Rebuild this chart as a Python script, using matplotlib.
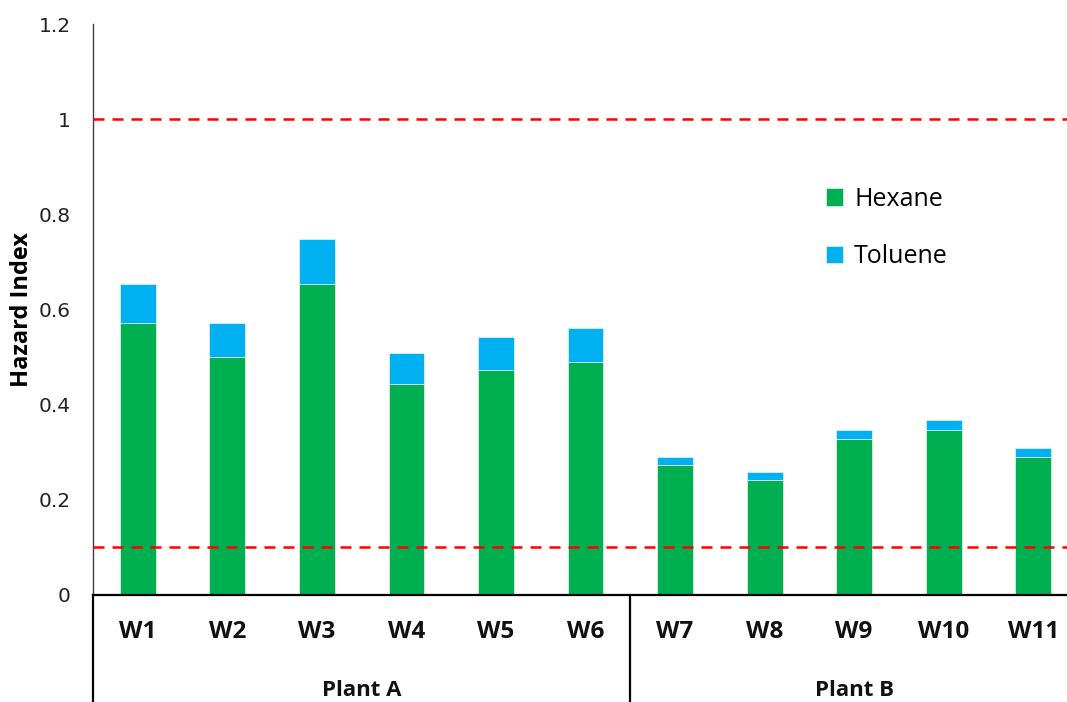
import matplotlib.pyplot as plt
import matplotlib.transforms as mtransforms

wells = ['W1', 'W2', 'W3', 'W4', 'W5', 'W6', 'W7', 'W8', 'W9', 'W10', 'W11']
hexane = [0.572, 0.500, 0.654, 0.443, 0.472, 0.490, 0.273, 0.242, 0.327, 0.346, 0.290]
toluene = [0.082, 0.072, 0.094, 0.066, 0.070, 0.071, 0.017, 0.016, 0.020, 0.022, 0.019]
plants = ['Plant A', 'Plant B']
plant_sizes = [6, 5]
limits = [1.0, 0.1]

green = '#00B050'
blue = '#00B0F0'

fig = plt.figure(figsize=(10.67, 7.02), dpi=100)
ax = fig.add_axes([93 / 1067, 107 / 702, 985 / 1067, 571 / 702])

x = list(range(len(wells)))
ax.bar(x, hexane, width=0.4, color=green, edgecolor='#d8f0e0', linewidth=0.6, label='Hexane', zorder=2)
ax.bar(x, toluene, width=0.4, bottom=hexane, color=blue, edgecolor='#d8f0f8', linewidth=0.6,
       label='Toluene', zorder=2)

for v in limits:
    ax.axhline(v, color='#ff0000', lw=1.8, dashes=(4.4, 3.2), zorder=3)

ax.set_xlim(-0.5, len(wells) - 0.5)
ax.set_ylim(0, 1.2)
ax.set_yticks([0, 0.2, 0.4, 0.6, 0.8, 1, 1.2])
ax.set_yticklabels(['0', '0.2', '0.4', '0.6', '0.8', '1', '1.2'], fontsize=14.5, family='DejaVu Sans',
                   color='#222222')
ax.tick_params(axis='y', length=0, pad=16)
ax.set_xticks([])

for s in ['top', 'right']:
    ax.spines[s].set_visible(False)
ax.spines['left'].set_color('#404040')
ax.spines['left'].set_linewidth(1.0)
ax.spines['bottom'].set_color('black')
ax.spines['bottom'].set_linewidth(1.6)

ax.set_ylabel('Hazard Index', fontsize=17, fontweight='bold', family='Open Sans', labelpad=3)

# category labels and grouping below the axis
trans = mtransforms.blended_transform_factory(ax.transData, ax.transAxes)
for i, w in enumerate(wells):
    ax.text(i, -0.065, w, transform=trans, ha='center', va='center', fontsize=17.5,
            fontweight='bold', family='Open Sans', color='#111111')

start = 0
bottom_y = -107 / 571
ax.plot([-0.5, -0.5], [0, bottom_y], transform=trans, color='black', lw=1.6, clip_on=False)
for name, n in zip(plants, plant_sizes):
    end = start + n
    ax.text((start + end - 1) / 2, -0.167, name, transform=trans, ha='center', va='center',
            fontsize=16, fontweight='bold', family='Open Sans', color='#111111')
    if end < len(wells):
        ax.plot([end - 0.5, end - 0.5], [0, bottom_y], transform=trans, color='black', lw=1.6,
                clip_on=False)
    start = end

leg = ax.legend(loc='upper left', bbox_to_anchor=(803 / 1067, (702 - 164) / 702),
                bbox_transform=fig.transFigure, frameon=False,
                handlelength=0.7, handleheight=0.7, handletextpad=0.45, labelspacing=1.3,
                prop={'family': 'Open Sans', 'size': 18})

fig.savefig('out.png', dpi=100)
